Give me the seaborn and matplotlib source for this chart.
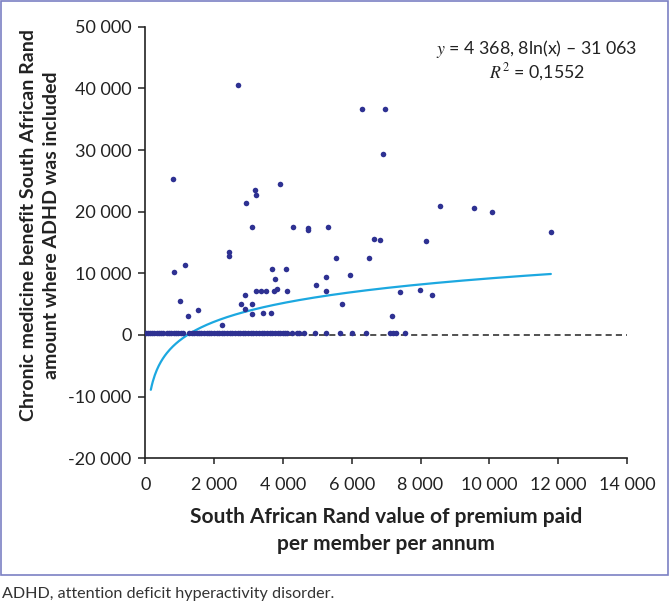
import numpy as np
import pandas as pd
import matplotlib
matplotlib.use("Agg")
import matplotlib.pyplot as plt
import seaborn as sns
from matplotlib.patches import Rectangle

# <editor-fold data>
# members with a non-zero chronic benefit (premium, benefit) in Rand
premium_paid = [2707, 6298, 6956, 6898, 797, 3184, 3222, 3920, 2921, 3096,
                4290, 4726, 4726, 5297, 8577, 9558, 10081, 11787, 6656, 6831,
                8149, 2436, 2436, 5541, 6502, 1164, 845, 3679, 4095, 5937,
                3775, 5250, 4948, 3222, 3376, 3504, 3737, 3824, 4104, 5250,
                7393, 7986, 8335, 2902, 1010, 2794, 3096, 5725, 2893, 1534,
                3096, 3416, 3650, 1234, 7171, 2223]
benefit_amount = [40470, 36680, 36680, 29340, 25330, 23500, 22690, 24420, 21440, 17550,
                  17550, 17390, 17020, 17450, 20850, 20530, 19930, 16690, 15610, 15400,
                  15230, 13500, 12800, 12530, 12530, 11350, 10260, 10650, 10650, 9720,
                  9080, 9350, 8050, 7180, 7130, 7180, 7180, 7500, 7130, 7130,
                  6920, 7240, 6430, 6430, 5460, 4970, 5020, 5020, 4160, 4100,
                  3450, 3620, 3510, 3030, 3030, 1570]

# members sitting on (almost) zero benefit
premium_zero = [20, 80, 140, 200, 260, 330, 400, 470, 520,
                640, 700, 760, 830, 900, 960, 1030, 1090,
                1280, 1350, 1420, 1490, 1560, 1630, 1700, 1780, 1850, 1920,
                2000, 2080, 2150, 2230, 2300, 2380, 2450, 2530, 2600, 2680,
                2760, 2830, 2910, 2990, 3060, 3140, 3220, 3300, 3380, 3450,
                3530, 3610, 3690, 3770, 3850, 3920, 4000, 4070, 4130,
                4261, 4406, 4473, 4598, 4939, 5250, 5669, 6007, 6423,
                7121, 7200, 7276, 7538]
benefit_zero = [300] * len(premium_zero)

# logarithmic trendline from the chart: y = 4368.8 ln(x) - 31063
fit_slope = 4368.8
fit_intercept = -31063
fit_x_range = [160, 11787]

x_ticks = [0, 2000, 4000, 6000, 8000, 10000, 12000, 14000]
x_tick_labels = ["0", "2 000", "4 000", "6 000", "8 000", "10 000", "12 000", "14 000"]
y_ticks = [-20000, -10000, 0, 10000, 20000, 30000, 40000, 50000]
y_tick_labels = ["-20 000", "-10 000", "0", "10 000", "20 000", "30 000", "40 000", "50 000"]
# </editor-fold>

df = pd.DataFrame({
    "premium": premium_zero + premium_paid,
    "benefit": benefit_zero + benefit_amount,
})

fit_x = np.linspace(fit_x_range[0], fit_x_range[1], 400)
fit_df = pd.DataFrame({"premium": fit_x,
                       "benefit": fit_slope * np.log(fit_x) + fit_intercept})

sns.set_style("ticks")
plt.rcParams["font.family"] = ["Lato", "DejaVu Sans"]
plt.rcParams["mathtext.fontset"] = "stix"

fig = plt.figure(figsize=(6.7, 6.03), dpi=100)
ax = fig.add_axes([0.2169, 0.240, 0.7189, 0.7157])

ax.axhline(0, color="#222222", lw=1.1, linestyle=(0, (4, 2.7)), zorder=1)
sns.lineplot(data=fit_df, x="premium", y="benefit", ax=ax, color="#1CA8E0",
             lw=1.6, zorder=2)
sns.scatterplot(data=df, x="premium", y="benefit", ax=ax, color="#2E3192",
                s=16, linewidth=0, zorder=3)

ax.set_xlim(0, 14000)
ax.set_ylim(-20000, 50000)
ax.set_xticks(x_ticks, x_tick_labels)
ax.set_yticks(y_ticks, y_tick_labels)
ax.tick_params(axis="both", labelsize=13, color="#222222", labelcolor="#222222",
               width=1.1)
ax.tick_params(axis="y", length=5, pad=5)
ax.tick_params(axis="x", length=4.5, pad=9)
for side in ["top", "right"]:
    ax.spines[side].set_visible(False)
for side in ["left", "bottom"]:
    ax.spines[side].set_color("#222222")
    ax.spines[side].set_linewidth(1.2)

ax.set_xlabel("South African Rand value of premium paid\nper member per annum",
              fontsize=15, fontweight="bold", color="#222222", linespacing=1.45)
ax.set_ylabel("Chronic medicine benefit South African Rand\namount where ADHD was included",
              fontsize=14, fontweight="bold", color="#222222", linespacing=1.4)
ax.xaxis.set_label_coords(0.5, -0.112)
ax.yaxis.set_label_coords(-0.177, 0.5406)

fig.text(0.8015, 0.9187, r"$y$ = 4 368, 8ln(x) – 31 063", ha="center", va="center",
         fontsize=12.8, color="#222222")
fig.text(0.8015, 0.8806, r"$R^2$ = 0,1552", ha="center", va="center",
         fontsize=12.8, color="#222222")

# frame round the figure and caption below it
fig.patches.append(Rectangle((0.0015, 28 / 603), 0.996, 1 - 28 / 603 - 0.0017,
                             transform=fig.transFigure, fill=False,
                             edgecolor="#7C80C4", lw=1.2))
fig.text(0.003, 0.015, "ADHD, attention deficit hyperactivity disorder.",
         ha="left", va="center", fontsize=11.6, color="#333333")

plt.savefig("out.png", dpi=100)
